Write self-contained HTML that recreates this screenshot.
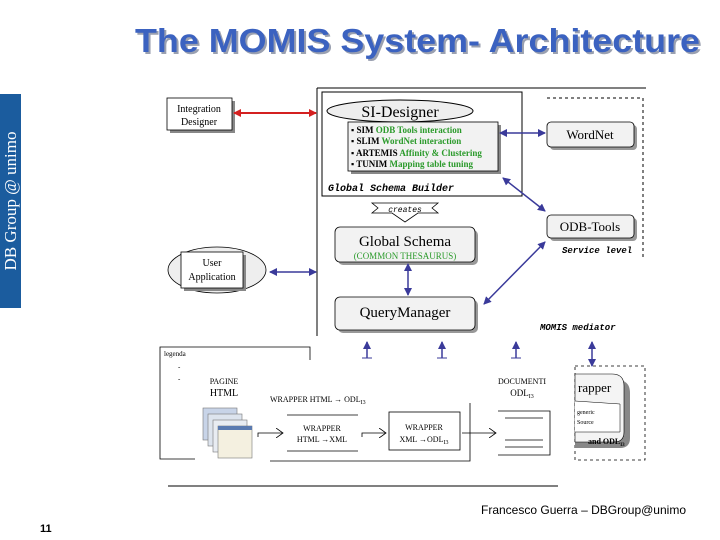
<!DOCTYPE html>
<html><head><meta charset="utf-8"><style>
html,body{margin:0;padding:0;background:#fff;width:720px;height:540px;overflow:hidden}
</style></head><body>
<svg width="720" height="540" viewBox="0 0 720 540" xmlns="http://www.w3.org/2000/svg" font-family="Liberation Serif, serif">
<defs>
<marker id="bl" markerWidth="8" markerHeight="8" refX="7" refY="4" orient="auto-start-reverse" markerUnits="userSpaceOnUse"><path d="M0,0 L8,4 L0,8z" fill="#3a3a9a"/></marker>
<marker id="rd" markerWidth="8" markerHeight="8" refX="7" refY="4" orient="auto-start-reverse" markerUnits="userSpaceOnUse"><path d="M0,0 L8,4 L0,8z" fill="#d42020"/></marker>
<marker id="op" markerWidth="8" markerHeight="10" refX="7" refY="5" orient="auto" markerUnits="userSpaceOnUse"><path d="M0,0 L7,5 L0,10" fill="none" stroke="#000" stroke-width="0.8"/></marker>
</defs>
<!-- title -->
<text x="137" y="54" textLength="565" lengthAdjust="spacingAndGlyphs" font-family="Liberation Sans, sans-serif" font-weight="bold" font-size="33" fill="#9aa0b0">The MOMIS System- Architecture</text>
<text x="135" y="52" textLength="565" lengthAdjust="spacingAndGlyphs" font-family="Liberation Sans, sans-serif" font-weight="bold" font-size="33" fill="#3b62c0">The MOMIS System- Architecture</text>
<!-- sidebar -->
<rect x="0" y="94" width="21" height="214" fill="#1b5c9e"/>
<text transform="translate(16,201) rotate(-90)" text-anchor="middle" font-size="17" fill="#fff">DB Group @ unimo</text>

<!-- outer mediator -->
<line x1="317" y1="88" x2="646" y2="88" stroke="#000" stroke-width="1"/>
<line x1="317" y1="88" x2="317" y2="336" stroke="#000" stroke-width="1"/>
<!-- service level dashed -->
<path d="M547,98 L643,98 L643,258" fill="none" stroke="#000" stroke-dasharray="3,3" stroke-width="1"/>
<text x="562" y="253" font-family="Liberation Mono, monospace" font-size="9" font-weight="bold" font-style="italic">Service level</text>
<text x="540" y="330" font-family="Liberation Mono, monospace" font-size="9" font-weight="bold" font-style="italic">MOMIS mediator</text>

<!-- Global schema builder -->
<rect x="322" y="92" width="200" height="104" fill="#fff" stroke="#000"/>
<ellipse cx="400" cy="111" rx="73" ry="11" fill="#eee" stroke="#000"/>
<text x="400" y="117" text-anchor="middle" font-size="16">SI-Designer</text>
<rect x="351" y="125" width="150" height="49" fill="#888"/>
<rect x="348" y="122" width="150" height="49" fill="#f2f2f2" stroke="#000" stroke-width="0.8"/>
<g font-size="9" font-weight="bold">
<text x="351" y="133">▪ SIM <tspan fill="#2a9a2a">ODB Tools interaction</tspan></text>
<text x="351" y="144">▪ SLIM <tspan fill="#2a9a2a">WordNet interaction</tspan></text>
<text x="351" y="156">▪ ARTEMIS <tspan fill="#2a9a2a">Affinity &amp; Clustering</tspan></text>
<text x="351" y="167">▪ TUNIM <tspan fill="#2a9a2a">Mapping table tuning</tspan></text>
</g>
<text x="328" y="191" font-family="Liberation Mono, monospace" font-size="10" font-weight="bold" font-style="italic">Global Schema Builder</text>

<!-- creates -->
<path d="M372,203 L438,203 L432,208 L438,213 L418,213 L405,222 L392,213 L372,213 L378,208z" fill="#fff" stroke="#000" stroke-width="0.8"/>
<text x="405" y="212" text-anchor="middle" font-family="Liberation Mono, monospace" font-size="8" font-style="italic">creates</text>

<!-- Global Schema -->
<rect x="338" y="230" width="140" height="35" rx="5" fill="#999"/>
<rect x="335" y="227" width="140" height="35" rx="5" fill="#f2f2f2" stroke="#000" stroke-width="0.8"/>
<text x="405" y="246" text-anchor="middle" font-size="15">Global Schema</text>
<text x="405" y="259" text-anchor="middle" font-size="9" fill="#2a9a2a">(COMMON THESAURUS)</text>
<!-- QueryManager -->
<rect x="338" y="300" width="140" height="33" rx="5" fill="#999"/>
<rect x="335" y="297" width="140" height="33" rx="5" fill="#f2f2f2" stroke="#000" stroke-width="0.8"/>
<text x="405" y="317" text-anchor="middle" font-size="15">QueryManager</text>

<!-- WordNet / ODB -->
<rect x="550" y="125" width="87" height="25" rx="4" fill="#999"/>
<rect x="547" y="122" width="87" height="25" rx="4" fill="#f2f2f2" stroke="#000" stroke-width="0.8"/>
<text x="590" y="139" text-anchor="middle" font-size="13">WordNet</text>
<rect x="550" y="218" width="87" height="23" rx="4" fill="#999"/>
<rect x="547" y="215" width="87" height="23" rx="4" fill="#f2f2f2" stroke="#000" stroke-width="0.8"/>
<text x="590" y="231" text-anchor="middle" font-size="13">ODB-Tools</text>

<!-- Integration designer -->
<rect x="170" y="101" width="65" height="32" fill="#888"/>
<rect x="167" y="98" width="65" height="32" fill="#fff" stroke="#000" stroke-width="0.8"/>
<text x="199" y="112" text-anchor="middle" font-size="10">Integration</text>
<text x="199" y="125" text-anchor="middle" font-size="10">Designer</text>
<line x1="234" y1="113" x2="316" y2="113" stroke="#d42020" stroke-width="2" marker-start="url(#rd)" marker-end="url(#rd)"/>

<!-- User application -->
<ellipse cx="217" cy="270" rx="49" ry="23" fill="#eee" stroke="#000" stroke-width="0.8"/>
<rect x="184" y="255" width="62" height="36" fill="#888"/>
<rect x="181" y="252" width="62" height="36" fill="#fff" stroke="#000" stroke-width="0.8"/>
<text x="212" y="266" text-anchor="middle" font-size="10">User</text>
<text x="212" y="280" text-anchor="middle" font-size="10">Application</text>
<line x1="270" y1="272" x2="316" y2="272" stroke="#3a3a9a" stroke-width="1.5" marker-start="url(#bl)" marker-end="url(#bl)"/>

<!-- blue arrows -->
<g stroke="#3a3a9a" stroke-width="1.5" fill="none">
<line x1="500" y1="133" x2="545" y2="133" marker-start="url(#bl)" marker-end="url(#bl)"/>
<line x1="503" y1="178" x2="545" y2="211" marker-start="url(#bl)" marker-end="url(#bl)"/>
<line x1="545" y1="242" x2="484" y2="304" marker-start="url(#bl)" marker-end="url(#bl)"/>
<line x1="408" y1="264" x2="408" y2="295" marker-start="url(#bl)" marker-end="url(#bl)"/>
<line x1="367" y1="358" x2="367" y2="342" marker-end="url(#bl)"/>
<line x1="442" y1="358" x2="442" y2="342" marker-end="url(#bl)"/>
<line x1="516" y1="358" x2="516" y2="342" marker-end="url(#bl)"/>
<line x1="592" y1="366" x2="592" y2="342" marker-start="url(#bl)" marker-end="url(#bl)"/>
</g>
<g stroke="#3a3a9a" stroke-width="1"><line x1="362" y1="358" x2="372" y2="358"/><line x1="437" y1="358" x2="447" y2="358"/><line x1="511" y1="358" x2="521" y2="358"/></g>

<!-- legenda -->
<path d="M195,459 L160,459 L160,347 L310,347 L310,360" fill="none" stroke="#000" stroke-width="0.8"/>
<text x="164" y="356" font-size="7">legenda</text>
<text x="178" y="369" font-size="7">-</text>
<text x="178" y="381" font-size="7">-</text>
<text x="224" y="384" text-anchor="middle" font-size="8">PAGINE</text>
<text x="224" y="396" text-anchor="middle" font-size="10">HTML</text>
<!-- image stack -->
<g stroke="#777" stroke-width="0.6">
<rect x="203" y="408" width="34" height="32" fill="#c8d4e8"/>
<rect x="208" y="414" width="34" height="32" fill="#dde4ee"/>
<rect x="213" y="420" width="34" height="32" fill="#e8ecf2"/>
<rect x="218" y="426" width="34" height="32" fill="#f4f0e0"/>
</g>
<rect x="218" y="426" width="34" height="4" fill="#5a7ab0"/>

<text x="270" y="402" font-size="8">WRAPPER HTML → ODL<tspan font-size="6" dy="2">I3</tspan></text>
<line x1="287" y1="415" x2="358" y2="415" stroke="#000" stroke-width="0.8"/>
<line x1="287" y1="451" x2="358" y2="451" stroke="#000" stroke-width="0.8"/>
<text x="322" y="431" text-anchor="middle" font-size="8">WRAPPER</text>
<text x="322" y="442" text-anchor="middle" font-size="8">HTML →XML</text>
<rect x="389" y="412" width="71" height="38" fill="#fff" stroke="#000" stroke-width="0.8"/>
<text x="424" y="430" text-anchor="middle" font-size="8">WRAPPER</text>
<text x="424" y="442" text-anchor="middle" font-size="8">XML →ODL<tspan font-size="6" dy="2">I3</tspan></text>
<path d="M270,461 L470,461 L470,403" fill="none" stroke="#000" stroke-width="0.8"/>
<g fill="none" stroke="#000" stroke-width="0.8">
<path d="M258,437 L258,433 L283,433" marker-end="url(#op)"/>
<path d="M362,437 L362,433 L386,433" marker-end="url(#op)"/>
<path d="M462,433 L496,433" marker-end="url(#op)"/>
</g>
<text x="522" y="384" text-anchor="middle" font-size="8">DOCUMENTI</text>
<text x="522" y="396" text-anchor="middle" font-size="9">ODL<tspan font-size="6" dy="2">I3</tspan></text>
<path d="M498,411 L550,411 L550,455 L498,455" fill="none" stroke="#000" stroke-width="0.8"/>
<g stroke="#000" stroke-width="0.8"><line x1="505" y1="418" x2="543" y2="418"/><line x1="505" y1="440" x2="543" y2="440"/><line x1="505" y1="447" x2="543" y2="447"/></g>

<!-- wrapper dashed -->
<rect x="575" y="366" width="70" height="94" fill="none" stroke="#000" stroke-dasharray="3,3" stroke-width="0.8"/>
<path d="M575,380 L617,380 Q630,380 630,393 L630,438 Q630,448 620,448 L575,448z" fill="#888"/>
<path d="M575,374 L612,374 Q624,374 624,386 L624,432 Q624,442 614,442 L575,442z" fill="#f4f4f4" stroke="#000" stroke-width="0.6"/>
<text x="578" y="392" font-size="13">rapper</text>
<path d="M575,401 L620,404 L620,432 L575,432" fill="#fff" stroke="#000" stroke-width="0.5"/>
<text x="577" y="414" font-size="6">generic</text>
<text x="577" y="424" font-size="6">Source</text>
<text x="588" y="444" font-size="8" font-weight="bold">and ODL<tspan font-size="5" dy="2">I3</tspan></text>

<!-- footer -->
<line x1="168" y1="486" x2="558" y2="486" stroke="#000" stroke-width="1"/>
<text x="481" y="514" textLength="205" lengthAdjust="spacingAndGlyphs" font-family="Liberation Sans, sans-serif" font-size="12">Francesco Guerra – DBGroup@unimo</text>
<text x="40" y="532" font-family="Liberation Sans, sans-serif" font-size="11" font-weight="bold">11</text>
</svg>
</body></html>
